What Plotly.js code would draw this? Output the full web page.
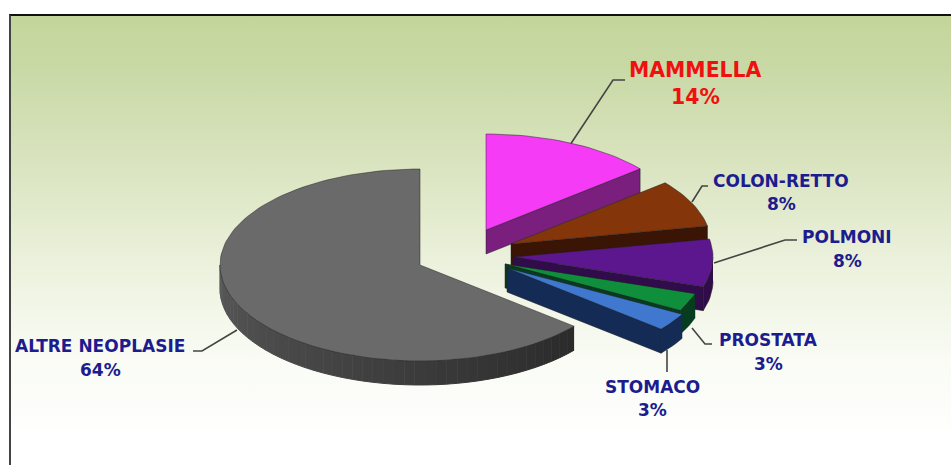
<!DOCTYPE html>
<html>
<head>
<meta charset="utf-8">
<script src="https://cdn.plot.ly/plotly-3.0.1.min.js"></script>
<style>
html,body{margin:0;padding:0;background:#fff;width:951px;height:465px;overflow:hidden}
#panel{position:absolute;left:9px;top:14px;width:942px;height:451px;box-sizing:border-box;
border-top:2px solid #111;border-left:2px solid #444;
background:linear-gradient(to bottom,#c4d59b 0%,#c9d9a6 12%,#dbe5c2 35%,#eef3e0 58%,#f9fbf4 76%,#ffffff 95%)}
#chart{position:absolute;left:0;top:0;width:951px;height:465px}
</style>
</head>
<body>
<div id="panel"></div>
<div id="chart"></div>
<script>
// Data
const categories = ['MAMMELLA','COLON-RETTO','POLMONI','PROSTATA','STOMACO','ALTRE NEOPLASIE'];
const shares = [14,8,8,3,3,64];

// Styles
const topColors  = ['#f53bf5','#85350a','#5c178f','#0f8f3c','#3f78ce','#6a6a6a'];
const sideColors = ['#7a1f7e','#3a1505','#300c4a','#063d1e','#142c55','#3a3a3a'];

// Exploded positions of each wedge and pseudo-3D projection, in pixels of the hidden axes
const apexX = [486,511,513,505,507,420];
const apexY = [230,244,257,264,268,265];
const RX = 200, RY = 96, DEPTH = 24;

function pt(i,deg){
  const a = deg*Math.PI/180;
  return [apexX[i]+RX*Math.sin(a), apexY[i]-RY*Math.cos(a)];
}
function poly(points,color,lw,lc){
  return {type:'scatter',mode:'lines',x:points.map(p=>p[0]),y:points.map(p=>p[1]),
    fill:'toself',fillcolor:color,line:{color:lc||'rgba(30,30,30,0.6)',width:lw===undefined?0.8:lw},
    hoverinfo:'skip',showlegend:false};
}
function arc(i,s,e){
  const out=[]; const n=Math.max(2,Math.ceil(Math.abs(e-s)/2));
  for(let k=0;k<=n;k++) out.push(pt(i,s+(e-s)*k/n));
  return out;
}
function down(p){return [p[0],p[1]+DEPTH];}
function wallColor(deg,lo,hi){
  // grey wall brightens from the right end towards the left
  const t=(deg-lo)/(hi-lo), v=Math.round(42+t*46);
  return 'rgb('+v+','+v+','+v+')';
}

const traces=[];
let acc=0;
categories.forEach((c,i)=>{
  const s=acc/100*360, e=(acc+shares[i])/100*360; acc+=shares[i];
  const ap=[apexX[i],apexY[i]];
  const ws=Math.max(s,90), we=Math.min(e,270);
  if(we>ws){
    if(i===categories.length-1){
      const segs=46, step=(we-ws)/segs;
      for(let k=0;k<segs;k++){
        const a=arc(i,ws+k*step,ws+(k+1)*step);
        const col=wallColor(ws+(k+0.5)*step,ws,we);
        traces.push(poly(a.concat(a.slice().reverse().map(down)),col,1,col));
      }
    } else {
      const a=arc(i,ws,we);
      traces.push(poly(a.concat(a.slice().reverse().map(down)),sideColors[i]));
    }
  }
  if(e<180){
    const p=pt(i,e);
    traces.push(poly([ap,p,down(p),down(ap),ap],sideColors[i]));
  }
  traces.push(poly([ap].concat(arc(i,s,e)).concat([ap]),topColors[i]));
});

// Labels
const navy='#1c1c8e';
const labelX=[695,781,847,768,652,100];
const labelY1=[70,181,237,340,387,346];
const labelY2=[97,204,261,364,410,370];
const annotations=[];
categories.forEach((c,i)=>{
  const col=i===0?'#f01010':navy, size=i===0?20.4:17;
  const base={xref:'x',yref:'y',showarrow:false,xanchor:'center',yanchor:'middle',
    font:{family:'"DejaVu Sans",Verdana,sans-serif',size:size,color:col}};
  annotations.push(Object.assign({},base,{x:labelX[i],y:labelY1[i],text:'<b>'+c+'</b>'}));
  annotations.push(Object.assign({},base,{x:labelX[i],y:labelY2[i],text:'<b>'+shares[i]+'%</b>'}));
});

// Leader lines
const leaders=[
 'M570,145 L613,80 L625,80',
 'M692,202 L702,186 L708,186',
 'M714,263 L785,240 L797,240',
 'M692,328 L705,344 L712,344',
 'M667,350 L667,372',
 'M237,330 L202,351 L193,351'
];
const shapes=leaders.map(d=>({type:'path',path:d,xref:'x',yref:'y',layer:'below',
  line:{color:'#444',width:1.6}}));

const hidden={visible:false,fixedrange:true,zeroline:false,showgrid:false};
Plotly.newPlot('chart',traces,{
  width:951,height:465,margin:{l:0,r:0,t:0,b:0},
  paper_bgcolor:'rgba(0,0,0,0)',plot_bgcolor:'rgba(0,0,0,0)',
  xaxis:Object.assign({range:[0,951]},hidden),
  yaxis:Object.assign({range:[465,0]},hidden),
  showlegend:false,hovermode:false,annotations:annotations,shapes:shapes
},{displayModeBar:false,staticPlot:true});
</script>
</body>
</html>
